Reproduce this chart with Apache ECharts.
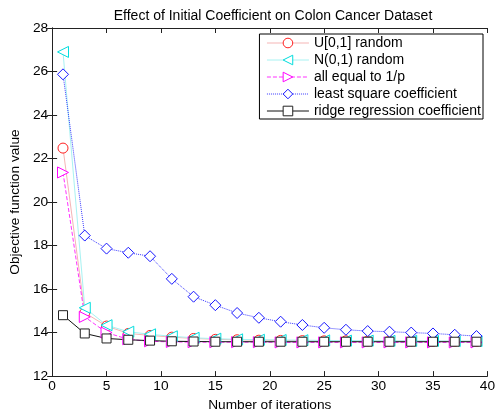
<!DOCTYPE html>
<html>
<head>
<meta charset="utf-8">
<script src="https://cdn.jsdelivr.net/npm/echarts@6/dist/echarts.min.js"></script>
<style>
  html, body { margin: 0; padding: 0; background: #fff; }
  #chart { width: 498px; height: 417px; }
</style>
</head>
<body>
<div id="chart"></div>
<script>
// iterations (odd only, as in the picture)
var iterations = [1, 3, 5, 7, 9, 11, 13, 15, 17, 19, 21, 23, 25, 27, 29, 31, 33, 35, 37, 39];

// objective values
var uniformRandom = [22.48, 14.91, 14.30, 13.96, 13.87, 13.79, 13.73, 13.69, 13.67, 13.65, 13.64, 13.63, 13.62, 13.62, 13.61, 13.61, 13.61, 13.60, 13.60, 13.60];
var normalRandom  = [26.90, 15.14, 14.34, 14.04, 13.92, 13.83, 13.76, 13.72, 13.69, 13.67, 13.66, 13.65, 13.64, 13.63, 13.63, 13.62, 13.62, 13.62, 13.61, 13.61];
var equalOneOverP = [21.36, 14.72, 14.00, 13.69, 13.60, 13.57, 13.56, 13.56, 13.56, 13.56, 13.55, 13.55, 13.55, 13.55, 13.55, 13.55, 13.55, 13.55, 13.55, 13.55];
var leastSquare   = [25.87, 18.46, 17.86, 17.67, 17.51, 16.47, 15.65, 15.26, 14.90, 14.68, 14.50, 14.35, 14.22, 14.13, 14.07, 14.04, 14.00, 13.96, 13.90, 13.84];
var ridgeCoef     = [14.80, 13.96, 13.73, 13.67, 13.63, 13.60, 13.59, 13.58, 13.58, 13.58, 13.58, 13.58, 13.58, 13.58, 13.58, 13.58, 13.58, 13.58, 13.58, 13.58];

var seriesNames = ['U[0,1] random', 'N(0,1) random', 'all equal to 1/p', 'least square coefficient', 'ridge regression coefficient'];

function pairs(vals) {
  return iterations.map(function (x, i) { return [x, vals[i]]; });
}

function mkSeries(name, vals, lineCol, markCol, lineType, symbol, size, rot) {
  return {
    name: name,
    type: 'line',
    data: pairs(vals),
    symbol: symbol,
    symbolSize: size,
    symbolRotate: rot || 0,
    showAllSymbol: true,
    lineStyle: { color: lineCol, width: 1, type: lineType },
    itemStyle: { color: '#fff', borderColor: markCol, borderWidth: 1 },
    emphasis: { disabled: true },
    animation: false
  };
}

var font = 'Liberation Sans, Arial, sans-serif';
var chart = echarts.init(document.getElementById('chart'));

var axisLine = { show: true, lineStyle: { color: '#222', width: 1 } };
var tick = { show: true, inside: true, length: 5, lineStyle: { color: '#222' } };

chart.setOption({
  backgroundColor: '#fff',
  title: {
    text: 'Effect of Initial Coefficient on Colon Cancer Dataset',
    left: 268, top: 4, textAlign: 'center',
    textStyle: { fontFamily: font, fontSize: 14, fontWeight: 'normal', color: '#000' }
  },
  legend: {
    orient: 'vertical',
    right: 15, top: 34,
    data: seriesNames,
    itemWidth: 42, itemHeight: 12, itemGap: 3,
    padding: [2, 2, 1, 7],
    lineStyle: { width: 1 },
    itemStyle: { borderWidth: 1 },
    borderColor: '#000', borderWidth: 1, backgroundColor: '#fff',
    textStyle: { fontFamily: font, fontSize: 14, color: '#000' }
  },
  grid: { left: 46, right: 8, top: 28, bottom: 40 },
  xAxis: [{
    type: 'value', min: 0, max: 40, interval: 5,
    name: 'Number of iterations', nameLocation: 'middle', nameGap: 18,
    nameTextStyle: { fontFamily: font, fontSize: 13.7, color: '#000' },
    axisLine: axisLine, axisTick: tick, splitLine: { show: false },
    axisLabel: { fontFamily: font, fontSize: 13.7, color: '#000', margin: 3 }
  }, {
    type: 'value', min: 0, max: 40, interval: 5, position: 'top',
    axisLine: axisLine, axisTick: tick, splitLine: { show: false },
    axisLabel: { show: false }
  }],
  yAxis: [{
    type: 'value', min: 12, max: 28, interval: 2,
    name: 'Objective function value', nameLocation: 'middle', nameGap: 27,
    nameTextStyle: { fontFamily: font, fontSize: 13.7, color: '#000' },
    axisLine: axisLine, axisTick: tick, splitLine: { show: false },
    axisLabel: { fontFamily: font, fontSize: 13.7, color: '#000', margin: 4 }
  }, {
    type: 'value', min: 12, max: 28, interval: 2, position: 'right',
    axisLine: axisLine, axisTick: tick, splitLine: { show: false },
    axisLabel: { show: false }
  }],
  series: [
    mkSeries(seriesNames[0], uniformRandom, '#f5b5b5', '#ff2020', 'solid', 'circle', 10),
    mkSeries(seriesNames[1], normalRandom, '#a8f2f2', '#00dddd', 'solid', 'triangle', 11, 90),
    mkSeries(seriesNames[2], equalOneOverP, '#ff33ff', '#ff00ff', 'dashed', 'triangle', 11, -90),
    mkSeries(seriesNames[3], leastSquare, '#3a3aff', '#1515ff', 'dotted', 'diamond', 11),
    mkSeries(seriesNames[4], ridgeCoef, '#111', '#222', 'solid', 'rect', 9)
  ]
});
</script>
</body>
</html>
